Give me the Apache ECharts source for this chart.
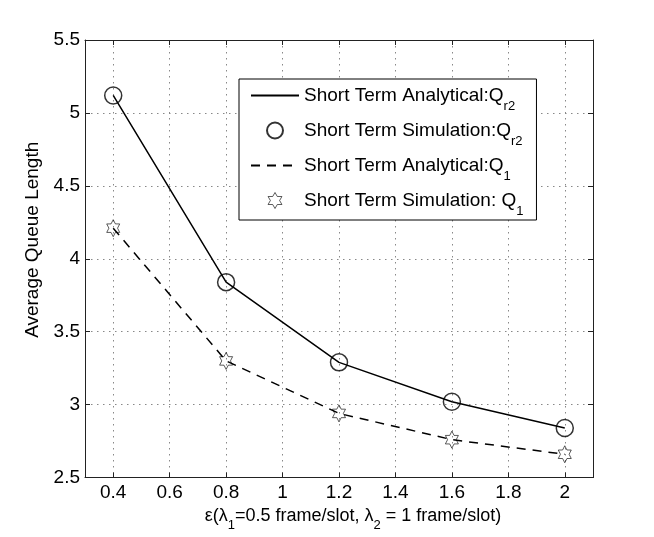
<!DOCTYPE html>
<html>
<head>
<meta charset="utf-8">
<script src="https://cdn.jsdelivr.net/npm/echarts@6/dist/echarts.min.js"></script>
<style>
  html, body { margin: 0; padding: 0; background: #fff; }
  #chart { width: 654px; height: 537px; }
</style>
</head>
<body>
<div id="chart"></div>
<script>
// epsilon values on the x axis
const xValues = [0.4, 0.8, 1.2, 1.6, 2.0];
// Q_r2
const qr2Analytical = [5.12, 3.84, 3.29, 3.02, 2.84];
const qr2Simulation = [5.12, 3.84, 3.29, 3.02, 2.84];
// Q_1
const q1Analytical = [4.21, 3.30, 2.94, 2.76, 2.66];
const q1Simulation = [4.21, 3.30, 2.94, 2.76, 2.66];

const xTicks = [0.4, 0.6, 0.8, 1.0, 1.2, 1.4, 1.6, 1.8, 2.0];

const seriesNames = [
  'Short Term Analytical:Qr2',
  'Short Term Simulation:Qr2',
  'Short Term Analytical:Q1',
  'Short Term Simulation: Q1'
];
const legendLabels = {
  'Short Term Analytical:Qr2': 'Short Term Analytical:Q{sub|r2}',
  'Short Term Simulation:Qr2': 'Short Term Simulation:Q{sub|r2}',
  'Short Term Analytical:Q1': 'Short Term Analytical:Q{sub|1}',
  'Short Term Simulation: Q1': 'Short Term Simulation: Q{sub|1}'
};

const font = '"Liberation Sans", Arial, Helvetica, sans-serif';
const hexagram = 'path://M0,-10L2.887,-5L8.66,-5L5.774,0L8.66,5L2.887,5L0,10L-2.887,5L-8.66,5L-5.774,0L-8.66,-5L-2.887,-5Z';

function pairs(ys) {
  return xValues.map((x, i) => [x, ys[i]]);
}

const myChart = echarts.init(document.getElementById('chart'));

const option = {
  animation: false,
  backgroundColor: '#fff',
  grid: { left: 85, right: 61, top: 40, bottom: 59, containLabel: false },
  legend: {
    // line entries: hide the marker that echarts puts on a line icon
    data: [
      { name: seriesNames[0], itemStyle: { opacity: 0 } },
      { name: seriesNames[1] },
      { name: seriesNames[2], itemStyle: { opacity: 0 } },
      { name: seriesNames[3], itemStyle: { borderWidth: 0.8 } }
    ],
    orient: 'vertical',
    left: 239,
    top: 79,
    padding: [7, 13, 2, 11],
    itemGap: 8,
    itemWidth: 48,
    itemHeight: 16,
    borderColor: '#000',
    borderWidth: 1,
    borderRadius: 0,
    backgroundColor: '#fff',
    selectedMode: false,
    textStyle: {
      fontFamily: font, fontSize: 19, color: '#000',
      rich: { sub: { fontSize: 13, fontFamily: font, color: '#000', padding: [22, 0, 0, 0] } }
    },
    formatter: name => legendLabels[name]
  },
  xAxis: [{
    type: 'value',
    min: 0.3,
    max: 2.1,
    name: 'ε(λ{sub|1}=0.5 frame/slot, λ{sub|2} = 1 frame/slot)',
    nameLocation: 'middle',
    nameGap: 17,
    nameTextStyle: {
      fontFamily: font, fontSize: 18, color: '#000',
      padding: [0, 0, 0, 28],
      rich: { sub: { fontSize: 13, fontFamily: font, color: '#000', padding: [18, 0, 0, 0] } }
    },
    axisLine: { lineStyle: { color: '#222', width: 1 } },
    axisTick: { inside: true, length: 5, customValues: xTicks, lineStyle: { color: '#222' } },
    axisLabel: { customValues: xTicks, fontFamily: font, fontSize: 19, color: '#000', margin: 6 },
    splitLine: { show: true, lineStyle: { color: '#888', type: [1.5, 4.5], width: 1 } }
  }, {
    type: 'value',
    position: 'top',
    min: 0.3,
    max: 2.1,
    axisLine: { show: true, lineStyle: { color: '#222', width: 1 } },
    axisTick: { inside: true, length: 5, customValues: xTicks, lineStyle: { color: '#222' } },
    axisLabel: { show: false },
    splitLine: { show: false }
  }],
  yAxis: [{
    type: 'value',
    min: 2.5,
    max: 5.5,
    interval: 0.5,
    name: 'Average Queue Length',
    nameLocation: 'middle',
    nameGap: 40,
    nameTextStyle: { fontFamily: font, fontSize: 19, color: '#000', padding: [0, 0, 0, 38] },
    axisLine: { show: true, lineStyle: { color: '#222', width: 1 } },
    axisTick: { show: true, inside: true, length: 5, lineStyle: { color: '#222' } },
    axisLabel: { fontFamily: font, fontSize: 19, color: '#000', margin: 5 },
    splitLine: { show: true, lineStyle: { color: '#888', type: [1.5, 4.5], width: 1 } }
  }, {
    type: 'value',
    position: 'right',
    min: 2.5,
    max: 5.5,
    interval: 0.5,
    axisLine: { show: true, lineStyle: { color: '#222', width: 1 } },
    axisTick: { show: true, inside: true, length: 5, lineStyle: { color: '#222' } },
    axisLabel: { show: false },
    splitLine: { show: false }
  }],
  series: [
    {
      name: seriesNames[0],
      type: 'line',
      data: pairs(qr2Analytical),
      symbol: 'none',
      lineStyle: { color: '#000', width: 1.5, type: 'solid' },
      itemStyle: { color: '#000' },
      z: 3
    },
    {
      name: seriesNames[1],
      type: 'scatter',
      data: pairs(qr2Simulation),
      symbol: 'circle',
      symbolSize: 17,
      itemStyle: { color: 'rgba(0,0,0,0)', borderColor: '#000', borderWidth: 1.5 },
      z: 4
    },
    {
      name: seriesNames[2],
      type: 'line',
      data: pairs(q1Analytical),
      symbol: 'none',
      lineStyle: { color: '#000', width: 1.5, type: [9, 7] },
      itemStyle: { color: '#000' },
      z: 3
    },
    {
      name: seriesNames[3],
      type: 'scatter',
      data: pairs(q1Simulation),
      symbol: hexagram,
      symbolSize: [15, 17],
      symbolKeepAspect: true,
      itemStyle: { color: 'rgba(0,0,0,0)', borderColor: '#000', borderWidth: 0.8 },
      z: 4
    }
  ]
};

myChart.setOption(option);
</script>
</body>
</html>
